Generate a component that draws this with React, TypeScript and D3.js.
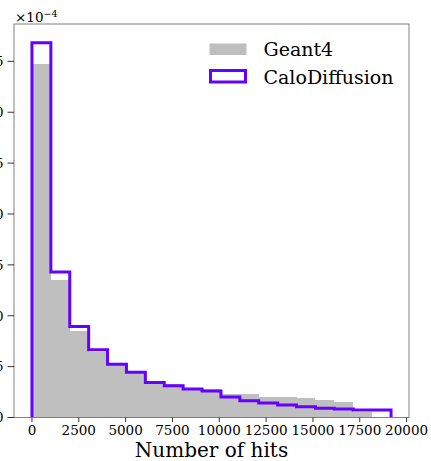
import React from "react";
import * as d3 from "d3";

// Histogram: 19 equal bins from 0 to 19170 hits, density (x 1e-4)
const binLow = 0;
const binHigh = 19170;
const binCount = 19;

const geant4 = [
  3.478, 1.347, 0.852, 0.648, 0.517, 0.435, 0.35, 0.33, 0.291, 0.276,
  0.231, 0.231, 0.205, 0.205, 0.195, 0.172, 0.156, 0.051, 0.0,
];
const caloDiffusion = [
  3.683, 1.43, 0.894, 0.665, 0.524, 0.445, 0.343, 0.312, 0.281, 0.261,
  0.202, 0.165, 0.143, 0.123, 0.106, 0.091, 0.084, 0.074, 0.074,
];
const xTicks = [0, 2500, 5000, 7500, 10000, 12500, 15000, 17500, 20000];
const yTicks = [0, 0.5, 1.0, 1.5, 2.0, 2.5, 3.0, 3.5];
const seriesNames = ["Geant4", "CaloDiffusion"];

const W = 431;
const H = 461;
const left = 14;
const right = 409;
const top = 24;
const bottom = 417.5;
const FONT = "'DejaVu Serif', serif";
const GRAY = "#bfbfbf";
const PURPLE = "#6600ff";

export default function App() {
  const binWidth = (binHigh - binLow) / binCount;
  const edges = d3.range(binCount + 1).map((i) => binLow + i * binWidth);
  const margin = 0.05 * (binHigh - binLow);
  const x = d3.scaleLinear().domain([binLow - margin, binHigh + margin]).range([left, right]);
  const yMax = (d3.max([...geant4, ...caloDiffusion]) as number) * 1.05;
  const y = d3.scaleLinear().domain([0, yMax]).range([bottom, top]);

  // step path for CaloDiffusion
  let d = `M${x(edges[0])},${y(0)}`;
  caloDiffusion.forEach((v, i) => {
    d += `L${x(edges[i])},${y(v)}L${x(edges[i + 1])},${y(v)}`;
  });
  d += `L${x(edges[binCount])},${y(0)}`;

  return (
    <svg
      width={W}
      height={H}
      style={{ position: "absolute", left: 0, top: 0, background: "#fff" }}
      fontFamily={FONT}
    >
      <rect x={0} y={0} width={W} height={H} fill="#fff" />
      {geant4.map((v, i) =>
        v > 0 ? (
          <rect
            key={i}
            x={x(edges[i])}
            y={y(v)}
            width={x(edges[i + 1]) - x(edges[i])}
            height={y(0) - y(v)}
            fill={GRAY}
            shapeRendering="crispEdges"
          />
        ) : null
      )}
      <path d={d} fill="none" stroke={PURPLE} strokeWidth={3} strokeLinejoin="miter" />

      {/* spines */}
      <rect x={left} y={top} width={right - left} height={bottom - top} fill="none" stroke="#808080" strokeWidth={1} />

      {/* x ticks */}
      {xTicks.map((t) => (
        <g key={t}>
          <line x1={x(t)} x2={x(t)} y1={bottom} y2={bottom + 4.5} stroke="#333" strokeWidth={1} />
          <text x={x(t)} y={435} textAnchor="middle" fontSize={13.5} fill="#000">
            {t}
          </text>
        </g>
      ))}
      {/* y ticks */}
      {yTicks.map((t) => (
        <g key={t}>
          <line x1={left - 6.5} x2={left} y1={y(t)} y2={y(t)} stroke="#333" strokeWidth={1} />
          <text x={3.5} y={y(t) + 4.8} textAnchor="end" fontSize={13.5} fill="#000">
            {t.toFixed(1)}
          </text>
        </g>
      ))}
      {/* offset text */}
      <text x={15} y={21.5} fontSize={13.5} fill="#000">
        ×10
        <tspan fontSize={9.5} dy={-5}>−4</tspan>
      </text>

      {/* x label */}
      <text x={(left + right) / 2} y={457} textAnchor="middle" fontSize={20} fill="#000">
        Number of hits
      </text>

      {/* legend */}
      <rect x={209.5} y={43.5} width={37} height={11.5} fill={GRAY} />
      <text x={263.5} y={56} fontSize={19} fill="#000">{seriesNames[0]}</text>
      <rect x={210.5} y={70.5} width={35} height={11.5} fill="none" stroke={PURPLE} strokeWidth={3} />
      <text x={263.5} y={84} fontSize={19} fill="#000">{seriesNames[1]}</text>
    </svg>
  );
}
